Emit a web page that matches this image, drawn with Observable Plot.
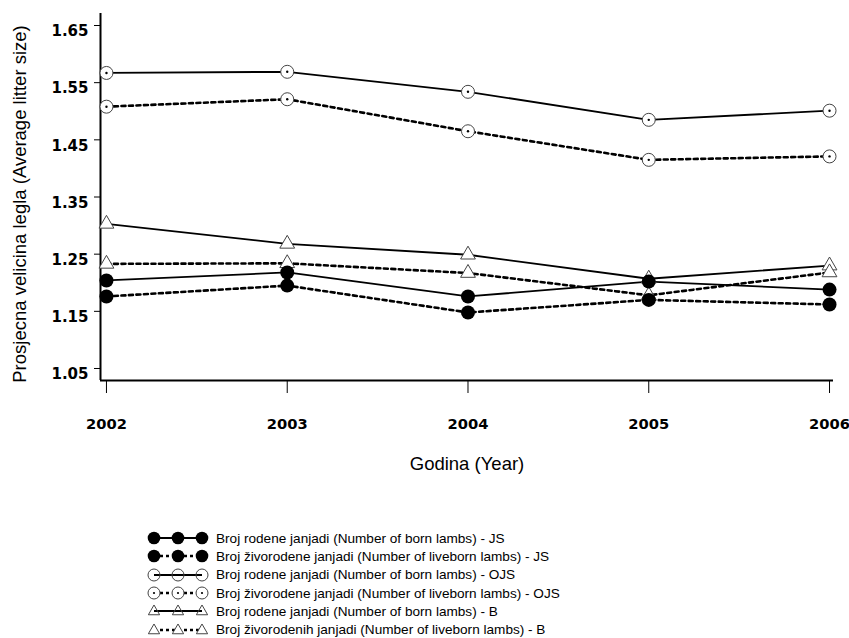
<!DOCTYPE html>
<html><head><meta charset="utf-8">
<script src="https://cdn.jsdelivr.net/npm/d3@7"></script>
<script src="https://cdn.jsdelivr.net/npm/@observablehq/plot@0.6"></script>
<style>
body{margin:0;background:#fff;font-family:"Liberation Sans",Arial,sans-serif;}
#chart svg{display:block;}
#legend{padding-left:146px;}
.row{display:flex;align-items:center;height:18.3px;font-size:13.6px;color:#000;white-space:nowrap;}
.row svg{display:block;margin-right:6px;}
</style></head><body>
<div id="chart"></div>
<div id="legend"></div>
<script>
const years = [2002, 2003, 2004, 2005, 2006];
const jsBorn  = [1.204, 1.218, 1.176, 1.202, 1.188];
const jsLive  = [1.176, 1.195, 1.148, 1.170, 1.162];
const ojsBorn = [1.567, 1.569, 1.534, 1.485, 1.501];
const ojsLive = [1.508, 1.521, 1.465, 1.415, 1.421];
const bBorn   = [1.303, 1.268, 1.249, 1.207, 1.230];
const bLive   = [1.233, 1.234, 1.217, 1.178, 1.218];
const seriesNames = [
  "Broj rodene janjadi (Number of born lambs) - JS",
  "Broj živorodene janjadi (Number of liveborn lambs) - JS",
  "Broj rodene janjadi (Number of born lambs) - OJS",
  "Broj živorodene janjadi (Number of liveborn lambs) - OJS",
  "Broj rodene janjadi (Number of born lambs) - B",
  "Broj živorodenih janjadi (Number of liveborn lambs) - B"
];
const seriesValues = [jsBorn, jsLive, ojsBorn, ojsLive, bBorn, bLive];
const seriesDash = [false, true, false, true, false, true];
const seriesMarker = ["filled", "filled", "circle", "circle", "triangle", "triangle"];
const yTicks = [1.05, 1.15, 1.25, 1.35, 1.45, 1.55, 1.65];
const xDomain = [2001.967, 2006.022];
const yDomain = [1.029, 1.671];
const xTitle = "Godina (Year)";
const yTitle = "Prosjecna velicina legla (Average litter size)";

const table = seriesNames.flatMap((s, i) => years.map((yr, j) => ({
  series: s, year: yr, value: seriesValues[i][j], dashed: seriesDash[i], marker: seriesMarker[i]
})));

const chart = Plot.plot({
  width: 849, height: 529,
  marginLeft: 100, marginRight: 16, marginTop: 13, marginBottom: 149,
  style: {fontFamily: "'DejaVu Sans', sans-serif", background: "#fff"},
  x: {domain: xDomain},
  y: {domain: yDomain},
  marks: [
    Plot.axisY({ticks: yTicks, tickSize: 6, tickFormat: () => "", stroke: "#000", label: null}),
    Plot.axisY({ticks: yTicks, tickSize: 0, tickPadding: 12, tickFormat: d => d.toFixed(2),
      fontSize: 15, fontWeight: "bold", label: null, dy: 6, fill: "#000",
      style: "letter-spacing:1.5px"}),
    Plot.axisX({ticks: years, tickSize: 13, tickPadding: 25, tickFormat: d => String(d),
      fontSize: 14.7, fontWeight: "bold", stroke: "#000", label: null}),
    Plot.ruleX([xDomain[0]], {stroke: "#000", strokeWidth: 2}),
    Plot.ruleY([yDomain[0]], {stroke: "#000", strokeWidth: 2}),
    Plot.text([yTitle], {frameAnchor: "left", textAnchor: "middle", dx: -80, dy: 7, rotate: -90, fontSize: 18.5,
      fontFamily: "'Liberation Sans', Arial, sans-serif", fill: "#000"}),
    Plot.text([xTitle], {frameAnchor: "bottom", dy: 89, fontSize: 18.5,
      fontFamily: "'Liberation Sans', Arial, sans-serif", fill: "#000"}),
    Plot.line(table.filter(d => !d.dashed), {x: "year", y: "value", z: "series", stroke: "#000", strokeWidth: 1.8}),
    Plot.line(table.filter(d => d.dashed), {x: "year", y: "value", z: "series", stroke: "#000", strokeWidth: 2.6, strokeDasharray: "4,3.5"}),
    Plot.dot(table.filter(d => d.marker === "triangle"), {x: "year", y: "value", symbol: "triangle", r: 5.5, fill: "#fff", stroke: "#444", strokeWidth: 1}),
    Plot.dot(table.filter(d => d.marker === "circle"), {x: "year", y: "value", r: 6.5, fill: "#fff", stroke: "#444", strokeWidth: 1}),
    Plot.dot(table.filter(d => d.marker === "circle"), {x: "year", y: "value", r: 1.2, fill: "#000"}),
    Plot.dot(table.filter(d => d.marker === "filled"), {x: "year", y: "value", r: 7, fill: "#000"})
  ]
});
document.getElementById("chart").appendChild(chart);

// Legend
const legend = d3.select("#legend");
seriesNames.forEach((name, i) => {
  const row = legend.append("div").attr("class", "row");
  const svg = row.append("svg").attr("width", 64).attr("height", 18);
  const xs = [8, 32, 56];
  svg.append("line").attr("x1", 8).attr("x2", 56).attr("y1", 9).attr("y2", 9)
    .attr("stroke", "#000").attr("stroke-width", seriesDash[i] ? 2.5 : 1.8)
    .attr("stroke-dasharray", seriesDash[i] ? "3,3" : null);
  xs.forEach(x => {
    if (seriesMarker[i] === "filled") {
      svg.append("circle").attr("cx", x).attr("cy", 9).attr("r", 6.3).attr("fill", "#000");
    } else if (seriesMarker[i] === "circle") {
      svg.append("circle").attr("cx", x).attr("cy", 9).attr("r", 6)
        .attr("fill", seriesDash[i] ? "#fff" : "none").attr("stroke", "#444");
      if (seriesDash[i]) svg.append("circle").attr("cx", x).attr("cy", 9).attr("r", 1.1).attr("fill", "#000");
    } else {
      svg.append("path").attr("transform", `translate(${x},9.5)`)
        .attr("d", d3.symbol(d3.symbolTriangle, 55)())
        .attr("fill", seriesDash[i] ? "#fff" : "none").attr("stroke", "#444");
    }
  });
  row.append("span").text(name);
});
</script>
</body></html>
